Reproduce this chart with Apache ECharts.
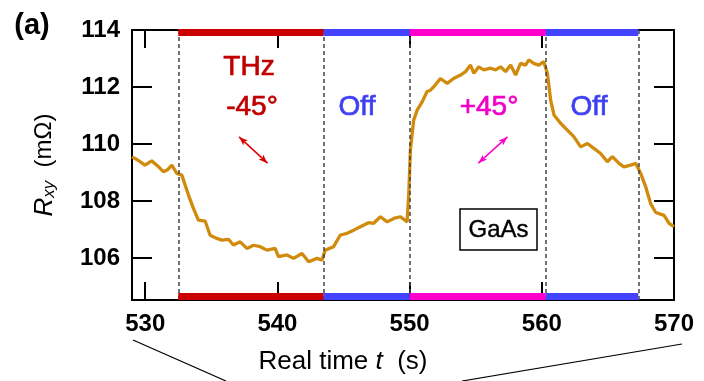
<!DOCTYPE html>
<html><head><meta charset="utf-8">
<script src="https://cdn.jsdelivr.net/npm/echarts@6/dist/echarts.min.js"></script>
<style>html,body{margin:0;padding:0;background:#fff}#c{width:704px;height:381px}</style>
</head><body><div id="c"></div>
<script>
// ---- data ----
const timeS = [529.0,529.4,529.98,530.49,530.9,531.37,531.7,532.01,532.39,532.77,533.27,533.64,534.02,534.53,534.91,535.42,535.80,536.30,536.67,537.18,537.69,538.2,538.70,539.20,539.83,540.08,540.72,541.22,541.86,542.36,542.99,543.37,543.62,544.25,544.76,545.27,545.77,546.27,546.90,547.28,547.79,548.30,548.80,549.30,549.81,549.93,550.06,550.31,550.57,550.95,551.32,551.58,551.83,552.33,552.84,553.33,553.85,554.23,554.61,554.86,555.23,555.61,556.12,556.50,556.88,557.26,557.64,558.02,558.39,558.77,559.02,559.39,559.77,560.15,560.42,560.67,560.92,561.42,561.93,562.42,562.94,563.45,563.94,564.45,564.96,565.34,565.84,566.21,566.73,567.11,567.48,567.86,568.24,568.62,569.25,569.63,570.0];
const rxy = [109.55,109.45,109.26,109.41,109.25,109.03,109.1,109.26,108.97,108.91,108.21,107.75,107.33,107.3,106.8,106.69,106.63,106.66,106.46,106.57,106.34,106.45,106.40,106.28,106.34,106.05,106.11,105.99,106.16,105.87,105.99,105.93,106.28,106.40,106.81,106.87,106.98,107.10,107.24,107.22,107.45,107.27,107.39,107.45,107.27,108.2,109.8,110.84,111.19,111.48,111.84,111.89,112.01,112.30,112.13,112.30,112.42,112.54,112.77,112.48,112.71,112.60,112.66,112.60,112.71,112.54,112.77,112.42,112.83,112.77,112.95,112.83,112.77,112.89,112.48,111.54,111.02,110.73,110.49,110.26,109.9,110.02,109.85,109.67,109.38,109.56,109.32,109.2,109.26,109.32,108.97,108.5,107.9,107.6,107.5,107.22,107.1];
const xTicks = [530,540,550,560,570];
const yTicks = [106,108,110,112,114];
const segStart = [532.5,543.5,550.0,560.3];
const segEnd   = [543.5,550.0,560.3,567.3];
const segState = ['minus45','off','plus45','off'];
const switchTimes = [532.5,543.5,550.0,560.3,567.3];
const arrowMinus = [[537.1,110.25],[539.25,109.33]];
const arrowPlus  = [[555.2,109.33],[557.4,110.25]];

// ---- styles ----
const X_MIN = 529, X_MAX = 570, Y_MIN = 104.53, Y_MAX = 114;
const stateColor = {minus45:'#CC0000', off:'#4444FF', plus45:'#FF00CC'};
const FF = '"Liberation Sans", Arial, sans-serif';

const chart = echarts.init(document.getElementById('c'), null, {renderer:'canvas'});

function xAxisCfg(pos, labels){
  return {
    type:'value', position:pos, min:X_MIN, max:X_MAX,
    axisLine:{show:true, onZero:false, lineStyle:{color:'#000', width:2}},
    axisTick:{show:true, inside:true, length:18, customValues:xTicks, lineStyle:{color:'#000', width:2}},
    axisLabel:{show:labels, customValues:xTicks, color:'#000', fontSize:24, fontWeight:'bold', fontFamily:FF, margin:12},
    splitLine:{show:false}
  };
}
function yAxisCfg(pos, labels){
  const c = {
    type:'value', position:pos, min:Y_MIN, max:Y_MAX,
    axisLine:{show:true, onZero:false, lineStyle:{color:'#000', width:2}},
    axisTick:{show:true, inside:true, length:20, customValues:yTicks, lineStyle:{color:'#000', width:2}},
    axisLabel:{show:labels, customValues:yTicks, color:'#000', fontSize:24, fontWeight:'bold', fontFamily:FF, margin:12},
    splitLine:{show:false}
  };
  if (labels) {
    c.name = '{i|R}{s|xy}{n|  (mΩ)}';
    c.nameLocation = 'middle';
    c.nameRotate = 90;
    c.nameGap = 74;
    c.nameTextStyle = {
      color:'#000', fontFamily:FF,
      rich:{
        i:{fontStyle:'italic', fontSize:26, fontFamily:FF, color:'#000'},
        s:{fontStyle:'italic', fontSize:17, fontFamily:FF, color:'#000', verticalAlign:'bottom', padding:[10,0,0,0]},
        n:{fontSize:24, fontFamily:FF, color:'#000'}
      }
    };
  }
  return c;
}

const curve = timeS.map((t,i)=>[t, rxy[i]]);

function annot(x, y, text, color){
  return {type:'text', x:x, y:y, style:{text:text, font:'28px '+FF, fill:color, stroke:color, lineWidth:0.7,
    align:'center', verticalAlign:'middle', textAlign:'center', textVerticalAlign:'middle'}};
}

const option = {
  animation:false,
  backgroundColor:'#fff',
  grid:{left:132, top:30, right:30, bottom:81, containLabel:false},
  xAxis:[xAxisCfg('bottom', true), xAxisCfg('top', false)],
  yAxis:[yAxisCfg('left', true), yAxisCfg('right', false)],
  series:[
    {
      type:'line', data:curve, xAxisIndex:0, yAxisIndex:0,
      showSymbol:false, symbol:'none', smooth:false, z:3,
      lineStyle:{color:'#D18B0C', width:3.3},
      markLine:{
        silent:true, symbol:['none','none'], label:{show:false}, animation:false,
        lineStyle:{type:[4,3], color:'#444', width:1.5},
        data: switchTimes.map(t=>({xAxis:t}))
      }
    },
    {
      type:'line', data:[], xAxisIndex:0, yAxisIndex:0, z:4,
      markLine:{
        silent:true, symbol:['arrow','arrow'], symbolSize:[5,9], label:{show:false}, animation:false,
        data:[
          [{coord:arrowMinus[0], lineStyle:{color:'#DD0000', width:1.5, type:'solid'}}, {coord:arrowMinus[1]}],
          [{coord:arrowPlus[0], lineStyle:{color:'#FF00CC', width:1.5, type:'solid'}}, {coord:arrowPlus[1]}]
        ]
      }
    },
    {
      type:'custom', xAxisIndex:0, yAxisIndex:0, z:6, silent:true, clip:false,
      data: segStart.map((s,i)=>[s, segEnd[i], i]),
      encode:{x:[0,1]},
      renderItem:function(params, api){
        const s = api.value(0), e = api.value(1), idx = api.value(2);
        const a = api.coord([s, Y_MAX]), b = api.coord([e, Y_MAX]);
        const c = api.coord([s, Y_MIN]);
        const col = stateColor[segState[idx]];
        return {type:'group', children:[
          {type:'rect', shape:{x:a[0], y:a[1]-1, width:b[0]-a[0], height:7}, style:{fill:col}},
          {type:'rect', shape:{x:c[0], y:c[1]-7, width:b[0]-a[0], height:7}, style:{fill:col}}
        ]};
      }
    }
  ],
  graphic:[
    {type:'text', x:32, y:26, style:{text:'(a)', font:'bold 29px '+FF, fill:'#000', align:'center', verticalAlign:'middle', textAlign:'center', textVerticalAlign:'middle'}},
    annot(249, 67, 'THz', '#C00000'),
    annot(252, 107, '-45°', '#C00000'),
    annot(357, 107, 'Off', '#3E3EF2'),
    annot(489, 107, '+45°', '#F000C8'),
    annot(589, 107, 'Off', '#3E3EF2'),
    {type:'rect', shape:{x:460, y:209, width:77, height:41}, style:{fill:'#fff', stroke:'#000', lineWidth:1.5}, z:10},
    {type:'text', x:498.5, y:230, z:11, style:{text:'GaAs', font:'24px '+FF, fill:'#000', stroke:'#000', lineWidth:0.4, align:'center', verticalAlign:'middle', textAlign:'center', textVerticalAlign:'middle'}},
    {type:'text', x:343, y:362, style:{text:'Real time {i|t}  (s)', font:'26px '+FF, fill:'#000', align:'center', verticalAlign:'middle', textAlign:'center', textVerticalAlign:'middle',
      rich:{i:{fontStyle:'italic', fontSize:26, fontFamily:FF, fill:'#000', color:'#000'}}}},
    {type:'line', shape:{x1:133, y1:340, x2:226, y2:381}, style:{stroke:'#000', lineWidth:1.2}},
    {type:'line', shape:{x1:682, y1:344, x2:462, y2:381}, style:{stroke:'#000', lineWidth:1.2}}
  ]
};
chart.setOption(option);
</script>
</body></html>
